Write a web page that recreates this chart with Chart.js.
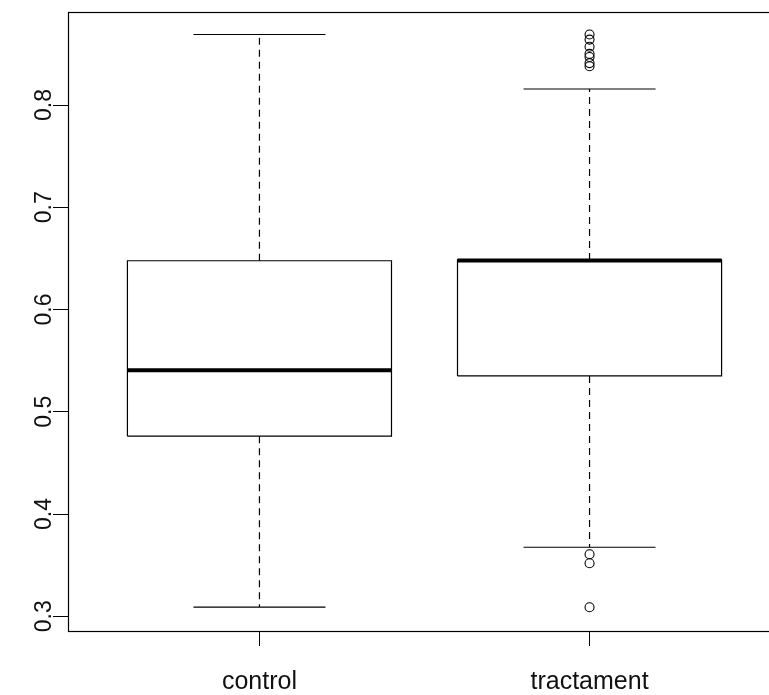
<!DOCTYPE html>
<html><head><meta charset="utf-8">
<script src="https://cdn.jsdelivr.net/npm/chart.js@4/dist/chart.umd.min.js"></script>
<style>
html,body{margin:0;padding:0;background:#fff;overflow:hidden;width:769px;height:695px}
#wrap{width:790px;height:695px;position:relative}
</style>
</head><body><div id="wrap"><canvas id="c"></canvas></div>
<script>
// ---- data ----
const categories   = ['control', 'tractament'];
const whiskerLow   = [0.309, 0.3675];
const quartile1    = [0.4761, 0.5351];
const medians      = [0.5407, 0.6480];
const quartile3    = [0.6477, 0.6485];
const whiskerHigh  = [0.8690, 0.8157];
const outliers     = [[], [0.869, 0.864, 0.857, 0.850, 0.847, 0.841, 0.838, 0.3607, 0.3519, 0.3088]];
const yTickValues  = [0.3, 0.4, 0.5, 0.6, 0.7, 0.8];

// ---- build datasets ----
const BOX_HALF = 0.4, STAPLE_HALF = 0.2;
const FONT = "'Liberation Sans', Arial, sans-serif";
const datasets = [];
categories.forEach((name, i) => {
  const x = i + 1;
  const line = (pts, extra) => Object.assign({
    data: pts, showLine: true, pointRadius: 0, pointHoverRadius: 0,
    borderColor: '#000', borderWidth: 1.2, tension: 0, fill: false, clip: false, order: 2
  }, extra || {});
  // box
  datasets.push(line([
    {x: x - BOX_HALF, y: quartile1[i]}, {x: x + BOX_HALF, y: quartile1[i]},
    {x: x + BOX_HALF, y: quartile3[i]}, {x: x - BOX_HALF, y: quartile3[i]},
    {x: x - BOX_HALF, y: quartile1[i]}
  ], {label: name + ' box'}));
  // whiskers (dashed)
  datasets.push(line([{x: x, y: quartile3[i]}, {x: x, y: whiskerHigh[i]}], {borderDash: [7, 5], label: name + ' upper whisker'}));
  datasets.push(line([{x: x, y: quartile1[i]}, {x: x, y: whiskerLow[i]}], {borderDash: [7, 5], label: name + ' lower whisker'}));
  // staples
  datasets.push(line([{x: x - STAPLE_HALF, y: whiskerHigh[i]}, {x: x + STAPLE_HALF, y: whiskerHigh[i]}], {label: name + ' upper staple'}));
  datasets.push(line([{x: x - STAPLE_HALF, y: whiskerLow[i]}, {x: x + STAPLE_HALF, y: whiskerLow[i]}], {label: name + ' lower staple'}));
  // median
  datasets.push(line([{x: x - BOX_HALF, y: medians[i]}, {x: x + BOX_HALF, y: medians[i]}], {borderWidth: 4, borderCapStyle: 'butt', order: 0, label: name + ' median'}));
  // outliers
  if (outliers[i].length) {
    datasets.push({
      label: name + ' outliers',
      data: outliers[i].map(v => ({x: x, y: v})),
      showLine: false, pointRadius: 4.5, pointHoverRadius: 4.5, pointStyle: 'circle',
      pointBorderColor: '#000', pointBackgroundColor: 'rgba(0,0,0,0)', pointBorderWidth: 1.1,
      clip: false, order: 1
    });
  }
});

const framePlugin = {
  id: 'frame',
  afterDatasetsDraw(chart) {
    const {ctx, chartArea: a} = chart;
    ctx.save();
    ctx.strokeStyle = '#000';
    ctx.lineWidth = 1.2;
    ctx.strokeRect(Math.round(a.left) + 0.5, Math.round(a.top) + 0.5, Math.round(a.right - a.left), Math.round(a.bottom - a.top));
    ctx.restore();
  }
};

new Chart(document.getElementById('c'), {
  type: 'scatter',
  data: {datasets},
  options: {
    responsive: true, maintainAspectRatio: false, animation: false,
    layout: {padding: {top: 12, right: 9, left: 0, bottom: 0}},
    plugins: {legend: {display: false}, tooltip: {enabled: false}},
    scales: {
      x: {
        type: 'linear', min: 0.42, max: 2.58,
        afterFit: s => { s.height = 64; },
        afterBuildTicks: s => { s.ticks = categories.map((c, i) => ({value: i + 1})); },
        grid: {display: true, drawOnChartArea: false, drawTicks: true, tickLength: 15, color: '#000', tickColor: '#000'},
        border: {display: true, color: '#000'},
        ticks: {
          callback: v => categories[v - 1] || '',
          font: {family: FONT, size: 25}, color: '#111', padding: 21, maxRotation: 0, autoSkip: false
        }
      },
      y: {
        type: 'linear', min: 0.2856, max: 0.891,
        afterFit: s => { s.width = 68; },
        afterBuildTicks: s => { s.ticks = yTickValues.map(v => ({value: v})); },
        grid: {display: true, drawOnChartArea: false, drawTicks: true, tickLength: 15, color: '#000', tickColor: '#000'},
        border: {display: true, color: '#000'},
        ticks: {
          callback: v => v.toFixed(1),
          font: {family: FONT, size: 23}, color: '#111',
          minRotation: 90, maxRotation: 90, crossAlign: 'center', padding: -8, autoSkip: false
        }
      }
    }
  },
  plugins: [framePlugin]
});
</script>
</body></html>
